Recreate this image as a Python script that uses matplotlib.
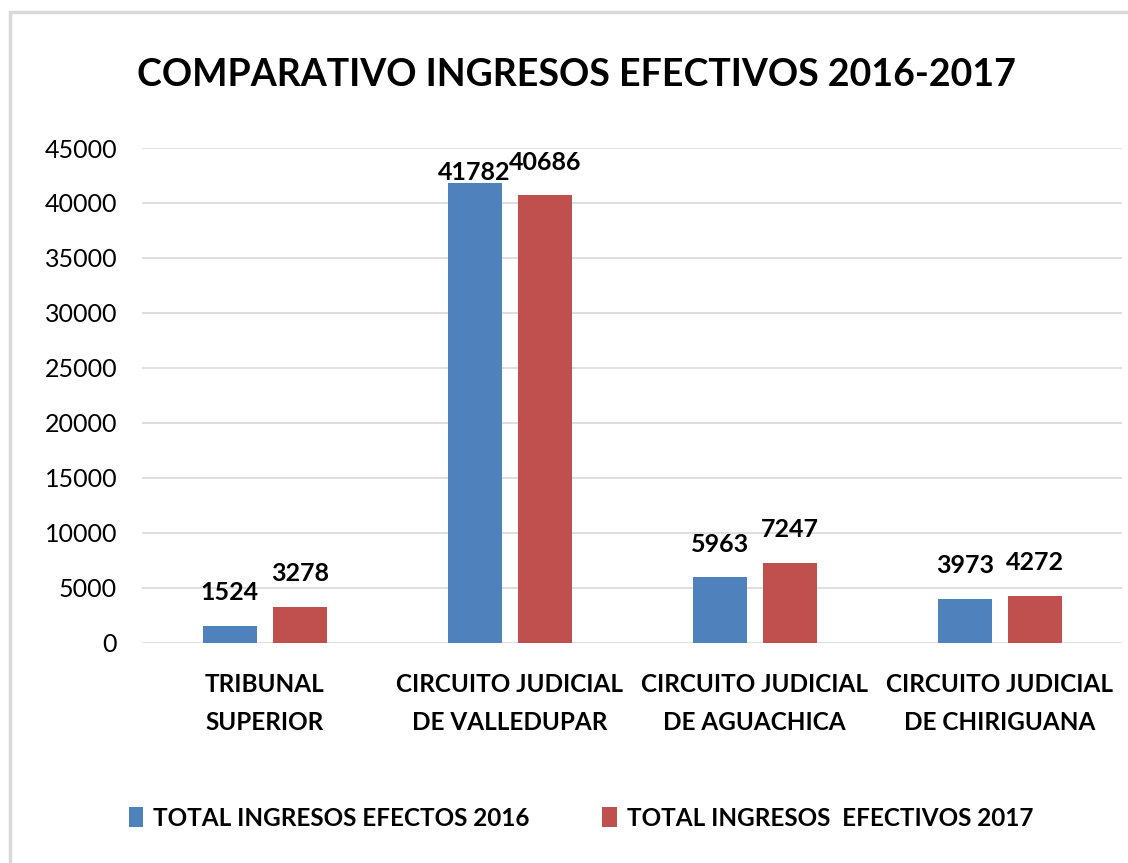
import numpy as np
import matplotlib.pyplot as plt
from matplotlib.patches import Rectangle

categorias = ['TRIBUNAL\nSUPERIOR', 'CIRCUITO JUDICIAL\nDE VALLEDUPAR',
              'CIRCUITO JUDICIAL\nDE AGUACHICA', 'CIRCUITO JUDICIAL\nDE CHIRIGUANA']
ingresos_2016 = [1524, 41782, 5963, 3973]
ingresos_2017 = [3278, 40686, 7247, 4272]
serie_2016 = 'TOTAL INGRESOS EFECTOS 2016'
serie_2017 = 'TOTAL INGRESOS  EFECTIVOS 2017'

plt.rcParams['font.family'] = ['Lato', 'DejaVu Sans']

fig = plt.figure(figsize=(11.28, 8.63), dpi=100)
ax = fig.add_axes([0.126, 0.255, 0.869, 0.5735])

x = np.arange(len(categorias))
w = 0.22
b1 = ax.bar(x - 0.143, ingresos_2016, w, color='#4F81BD', label=serie_2016, zorder=3)
b2 = ax.bar(x + 0.143, ingresos_2017, w, color='#C0504D', label=serie_2017, zorder=3)

for bars in (b1, b2):
    for r in bars:
        v = r.get_height()
        off = 8 if v > 41000 else 24
        ax.annotate(f'{int(v)}', (r.get_x() + r.get_width() / 2, v),
                    xytext=(0, off), textcoords='offset points',
                    ha='center', va='center', fontsize=18, fontweight='bold')

ax.set_xlim(-0.5, 3.5)
ax.set_ylim(0, 45000)
ax.set_yticks(np.arange(0, 45001, 5000))
ax.yaxis.grid(True, color='#D9D9D9', linewidth=1.2, zorder=0)
ax.set_axisbelow(True)
for s in ax.spines.values():
    s.set_visible(False)
ax.tick_params(length=0, labelsize=18)
ax.tick_params(axis='y', pad=18)
ax.set_xticks(x)
ax.set_xticklabels(categorias, fontsize=17.5, fontweight='bold', linespacing=1.75)
ax.tick_params(axis='x', pad=22)

fig.text(0.511, 0.913, 'COMPARATIVO INGRESOS EFECTIVOS 2016-2017',
         ha='center', va='center', fontsize=27, fontweight='bold')

fig.legend(handles=[b1, b2], loc='center', bbox_to_anchor=(0.515, 0.052), ncol=2,
           frameon=False, prop={'size': 17.5, 'weight': 'bold'},
           handlelength=0.6, handleheight=0.9, handletextpad=0.4, columnspacing=3)

fig.patches.append(Rectangle((0.009, -0.01), 1.1, 0.996, transform=fig.transFigure,
                             fill=False, edgecolor='#D9D9D9', linewidth=2.5))

fig.savefig('out.png', dpi=100)
